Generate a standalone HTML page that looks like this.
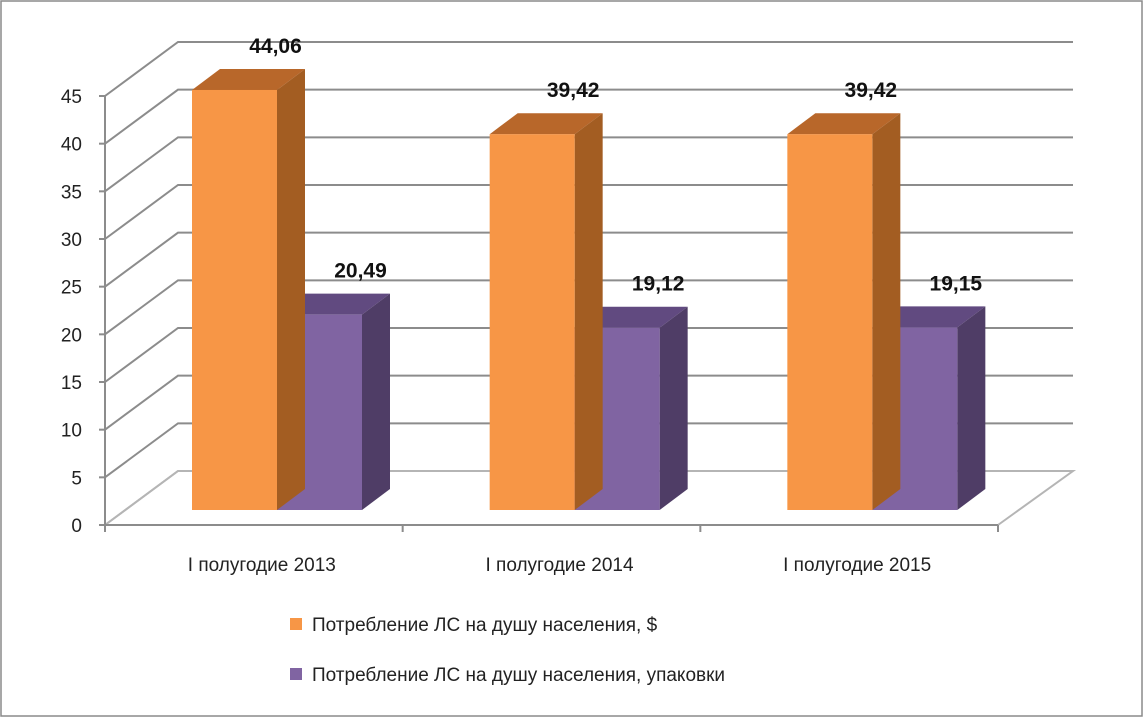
<!DOCTYPE html>
<html><head><meta charset="utf-8"><style>
html,body{margin:0;padding:0;background:#fff;}
svg{display:block;font-family:"Liberation Sans",sans-serif;}
</style></head><body>
<svg id="chart" width="1143" height="717" viewBox="0 0 1143 717" xmlns="http://www.w3.org/2000/svg">
<rect x="1" y="1" width="1141" height="715" fill="#fff" stroke="#8a8a8a" stroke-width="1.5"/>
<g id="grid"></g><g id="bars"></g><g id="labels"></g>
<g>
<rect x="290" y="618" width="12" height="12" fill="#F79646"/>
<text x="312" y="631" font-size="19" fill="#222">Потребление ЛС на душу населения, $</text>
<rect x="290" y="668" width="12" height="12" fill="#8064A2"/>
<text x="312" y="681" font-size="19" fill="#222">Потребление ЛС на душу населения, упаковки</text>
</g>
</svg>
<script>
const categories=["I полугодие 2013","I полугодие 2014","I полугодие 2015"];
const usdValues=[44.06,39.42,39.42];
const packValues=[20.49,19.12,19.15];
const usdLabels=["44,06","39,42","39,42"];
const packLabels=["20,49","19,12","19,15"];
const yTicks=[0,5,10,15,20,25,30,35,40,45];

const NS="http://www.w3.org/2000/svg";
const x0=105,x1=998,y0=525,yMax=45,pxPer=(525-96)/45;
const DX=73,DY=-54;
const groupW=(x1-x0)/categories.length;
function yScale(v){return y0-v*pxPer;}
function mk(tag,attrs,parent){const e=document.createElementNS(NS,tag);for(const k in attrs)e.setAttribute(k,attrs[k]);parent.appendChild(e);return e;}
const grid=document.getElementById('grid'),bars=document.getElementById('bars'),labels=document.getElementById('labels');
const gc="#8c8c8c";
// floor
const fl=mk('path',{d:`M${x0},${y0} L${x0+DX},${y0+DY} L${x1+DX+2},${y0+DY} L${x1},${y0}`,fill:'none',stroke:'#b5b5b5','stroke-width':2},grid);


yTicks.forEach(t=>{
  const y=yScale(t);
  const g=mk('path',{d:`M${x0},${y} L${x0+DX},${y+DY} L${x1+DX+2},${y+DY}`,fill:'none',stroke:t===0?'#b5b5b5':gc,'stroke-width':2},grid);
  
  
  const tk=mk('line',{x1:x0-6,y1:y,x2:x0,y2:y,stroke:gc,'stroke-width':2},grid);
  
  
  const tx=mk('text',{x:82,y:y+7,'font-size':19,'text-anchor':'end',fill:'#222'},grid);
  tx.textContent=t;
  
  
});
const ax=mk('path',{d:`M${x0},${yScale(yMax)} L${x0},${y0} L${x1},${y0}`,fill:'none',stroke:gc,'stroke-width':2},grid);


for(let i=0;i<=categories.length;i++){
  const x=x0+i*groupW;
  const t=mk('line',{x1:x,y1:y0,x2:x,y2:y0+7,stroke:gc,'stroke-width':2},grid);
  
  
}
const bw=85,bdx=28,bdy=-21,baseY=510;
function bar(x,v,front,top,side,name){
  const yt=baseY-v*pxPer;
  const g=mk('g',{},bars);
  
  
  mk('polygon',{points:`${x},${yt} ${x+bdx},${yt+bdy} ${x+bw+bdx},${yt+bdy} ${x+bw},${yt}`,fill:top},g);
  mk('polygon',{points:`${x+bw},${yt} ${x+bw+bdx},${yt+bdy} ${x+bw+bdx},${baseY+bdy} ${x+bw},${baseY}`,fill:side},g);
  mk('rect',{x:x,y:yt,width:bw,height:baseY-yt,fill:front},g);
  return yt;
}
function label(x,y,txt,name){
  const t=mk('text',{x:x,y:y,'font-size':21,'font-weight':'bold','text-anchor':'middle',fill:'#111'},labels);
  t.textContent=txt;
  
  
}
categories.forEach((c,i)=>{
  const gx=x0+i*groupW+87;
  const y1=bar(gx+bw,packValues[i],'#8064A2','#614A80','#4F3D66','bar-packs-'+(i+1));
  const y2=bar(gx,usdValues[i],'#F79646','#B8672A','#A35D22','bar-usd-'+(i+1));
  label(gx+bw/2+41,y2+bdy-16,usdLabels[i],'value-label-usd-'+(i+1));
  label(gx+bw*1.5+41,y1+bdy-16,packLabels[i],'value-label-packs-'+(i+1));
  const t=mk('text',{x:x0+(i+0.5)*groupW+8,y:571,'font-size':19,'text-anchor':'middle',fill:'#222'},grid);
  t.textContent=c;
  
  
});
</script>
</body></html>
